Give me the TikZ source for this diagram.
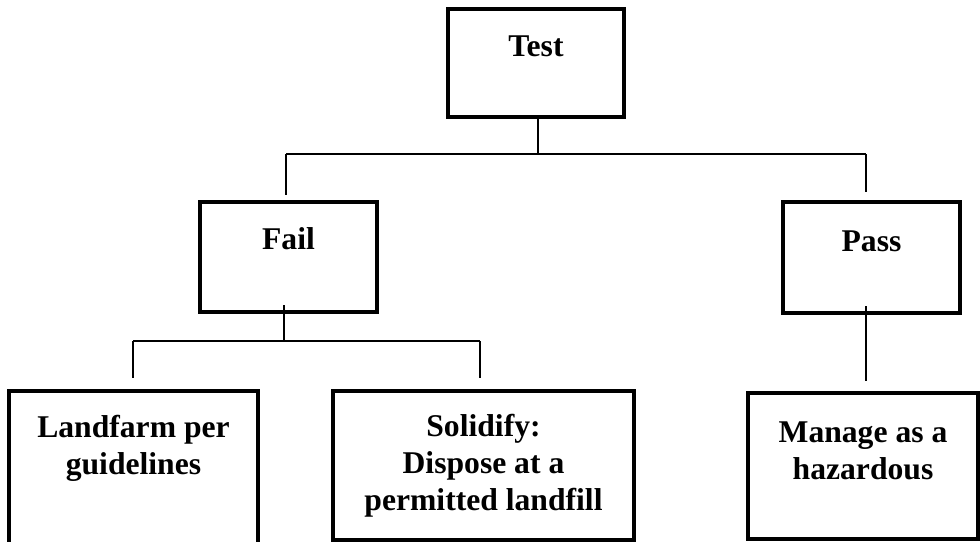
\documentclass[tikz,border=0pt]{standalone}
\usepackage{fontspec}
\setmainfont{Liberation Serif}
\usetikzlibrary{positioning}

\tikzset{
	box/.style={draw, line width=2.4pt, rectangle, inner sep=0pt},
	lbl/.style={inner sep=0pt, align=center, font=\fontsize{22.5pt}{26.3pt}\selectfont\bfseries},
	link/.style={line width=1.4pt},
	stem/.style={line width=2pt},
}

\begin{document}
\begin{tikzpicture}[x=0.025cm, y=-0.025cm]
	\clip (0,0) rectangle (980,541);

	% boxes
	\node[box, minimum width=125.2pt, minimum height=76.8pt] (test) at (536,63) {};
	\node[box, minimum width=125.9pt, minimum height=78.2pt] (fail) at (288.5,257) {};
	\node[box, minimum width=125.9pt, minimum height=79pt] (pass) at (871.5,257.5) {};
	\node[box, minimum width=177.1pt, minimum height=119.5pt] (land) at (133.5,475) {};
	\node[box, minimum width=214.1pt, minimum height=106pt] (solid) at (483.5,465.5) {};
	\node[box, minimum width=163.6pt, minimum height=103.9pt] (manage) at (863,466) {};

	% texts
	\node[lbl, below=20pt of test.north] (testlbl) {Test};
	\node[lbl, below=19.5pt of fail.north] (faillbl) {Fail};
	\node[lbl, below=21.5pt of pass.north] (passlbl) {Pass};
	\node[lbl, below=18.5pt of land.north] (landlbl) {Landfarm per\\guidelines};
	\node[lbl, below=17.5pt of solid.north] (solidlbl) {Solidify:\\Dispose at a\\permitted landfill};
	\node[lbl, below=21.5pt of manage.north] (managelbl) {Manage as a\\hazardous};

	% bars
	\coordinate (barL) at (286,154);
	\coordinate (barR) at (866,154);
	\coordinate (lowL) at (133,341);
	\coordinate (lowM) at (284,341);
	\coordinate (lowR) at (480,341);

	\draw[stem] ([yshift=2pt]test.south -| 538,0) -- (538,154);
	\draw[link] (barL) -- (barR);
	\draw[link] (barL) -- ([yshift=3.5pt]fail.north -| barL);
	\draw[stem] (barR) -- ([yshift=6pt]pass.north -| barR);

	\draw[link] ([yshift=6pt]fail.south -| lowM) -- (lowM);
	\draw[link] (lowL) -- (lowR);
	\draw[link] (lowL) -- ([yshift=8pt]land.north -| lowL);
	\draw[link] (lowR) -- ([yshift=8pt]solid.north -| lowR);

	\draw[link] ([yshift=6pt]pass.south -| barR) -- ([yshift=7pt]manage.north -| barR);
\end{tikzpicture}
\end{document}
